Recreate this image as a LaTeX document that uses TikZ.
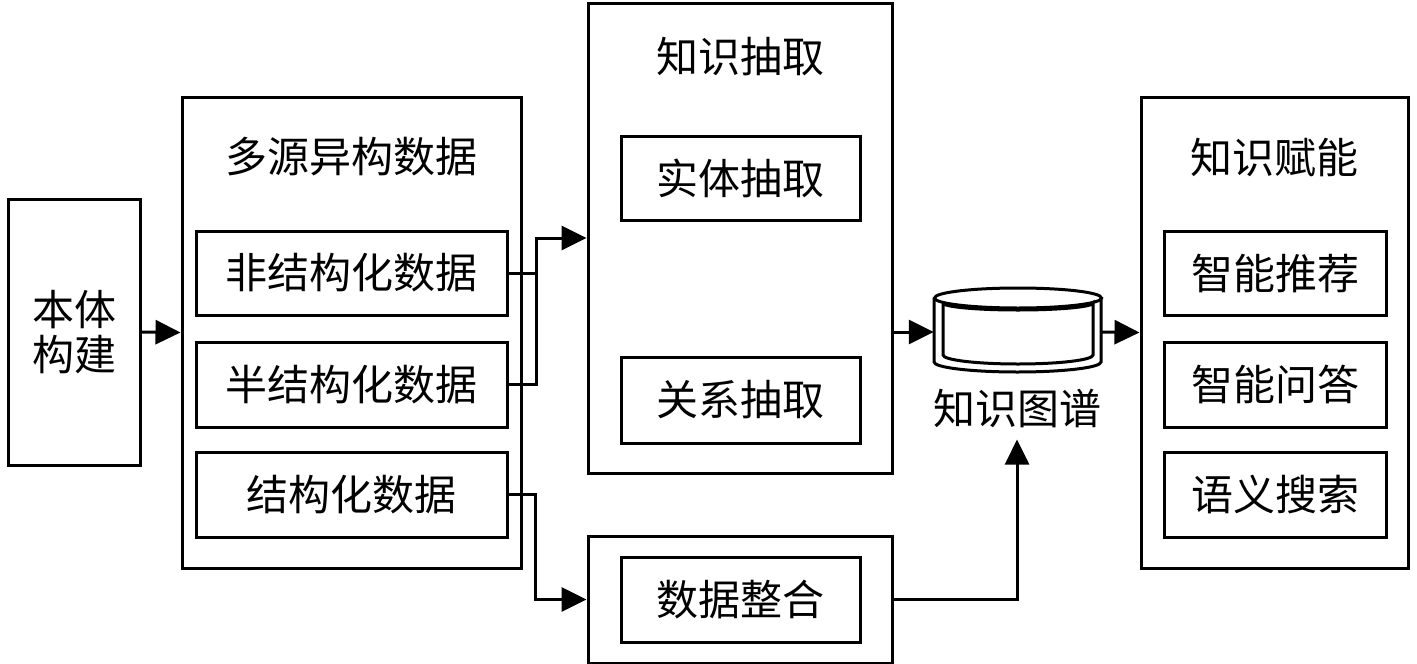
\documentclass[tikz,border=0pt]{standalone}
\usepackage{fontspec}
\setmainfont{Noto Sans CJK SC}
\usetikzlibrary{arrows.meta}
\tikzset{
  box/.style={draw, line width=3pt, inner sep=0pt, align=center, font=\fontsize{42}{45}\selectfont},
  lbl/.style={inner sep=0pt, align=center, font=\fontsize{42}{45}\selectfont},
  conn/.style={line width=3pt, -{Triangle[length=25pt,width=24pt]}},
  plain/.style={line width=3pt},
}
\newcommand{\bx}[6]{\node[box, minimum width={#4-#2}, minimum height={#5-#3}] (#1) at ({(#2+#4)/2},{(#3+#5)/2}) {#6};}
\begin{document}
\begin{tikzpicture}[x=1pt,y=-1pt]
\useasboundingbox (0,0) rectangle (1417,664);
% left
\bx{ont}{8}{199}{140}{465}{本体\\构建}
% sources
\bx{src}{182}{97}{521}{568}{}
\node[lbl] (srct) at (351,157) {多源异构数据};
\bx{uns}{196}{231}{507}{315}{非结构化数据}
\bx{semi}{196}{342}{507}{427}{半结构化数据}
\bx{str}{196}{452}{507}{537}{结构化数据}
% extraction
\bx{ke}{588}{3}{892}{473}{}
\node[lbl] (ket) at (740,57) {知识抽取};
\bx{ent}{621}{136}{860}{220}{实体抽取}
\bx{rel}{621}{357}{860}{443}{关系抽取}
% integration
\bx{di}{588}{536}{892}{663}{}
\bx{dii}{621}{557}{860}{642}{数据整合}
% application
\bx{app}{1141}{97}{1408}{568}{}
\node[lbl] (appt) at (1274,157) {知识赋能};
\bx{rec}{1164}{231}{1386}{315}{智能推荐}
\bx{qa}{1164}{342}{1386}{427}{智能问答}
\bx{sea}{1164}{452}{1386}{537}{语义搜索}
% knowledge graph cylinder
\node[minimum width=168pt, minimum height=88pt, inner sep=0pt] (kg) at (1018,332) {};
\draw[plain, fill=white] (934,298) -- (934,362) arc[start angle=180, end angle=360, x radius=83.5pt, y radius=10pt] -- (1101,298);
\draw[plain] (1018,298) ellipse[x radius=83.5pt, y radius=10pt];
\draw[plain] (943,303) -- (943,355) arc[start angle=180, end angle=360, x radius=75pt, y radius=9pt] -- (1093,303)
  arc[start angle=0, end angle=180, x radius=75pt, y radius=-7pt];
\node[lbl] (kgt) at (1017,408) {知识图谱};
% connectors
\draw[conn] (ont.east) -- (src.west);
\draw[conn] (uns.east) -- ++(28,0) |- (ke.west);
\draw[plain] (semi.east) -- ++(28,0) |- (uns.east);
\draw[conn] (str.east) -- ++(27,0) |- (di.west);
\draw[conn] (kg.west -| ke.east) -- (kg.west);
\draw[conn] (kg.east) -- (app.west);
\draw[conn] (di.east) -| ([yshift=-12pt]kgt.south);
\end{tikzpicture}
\end{document}
